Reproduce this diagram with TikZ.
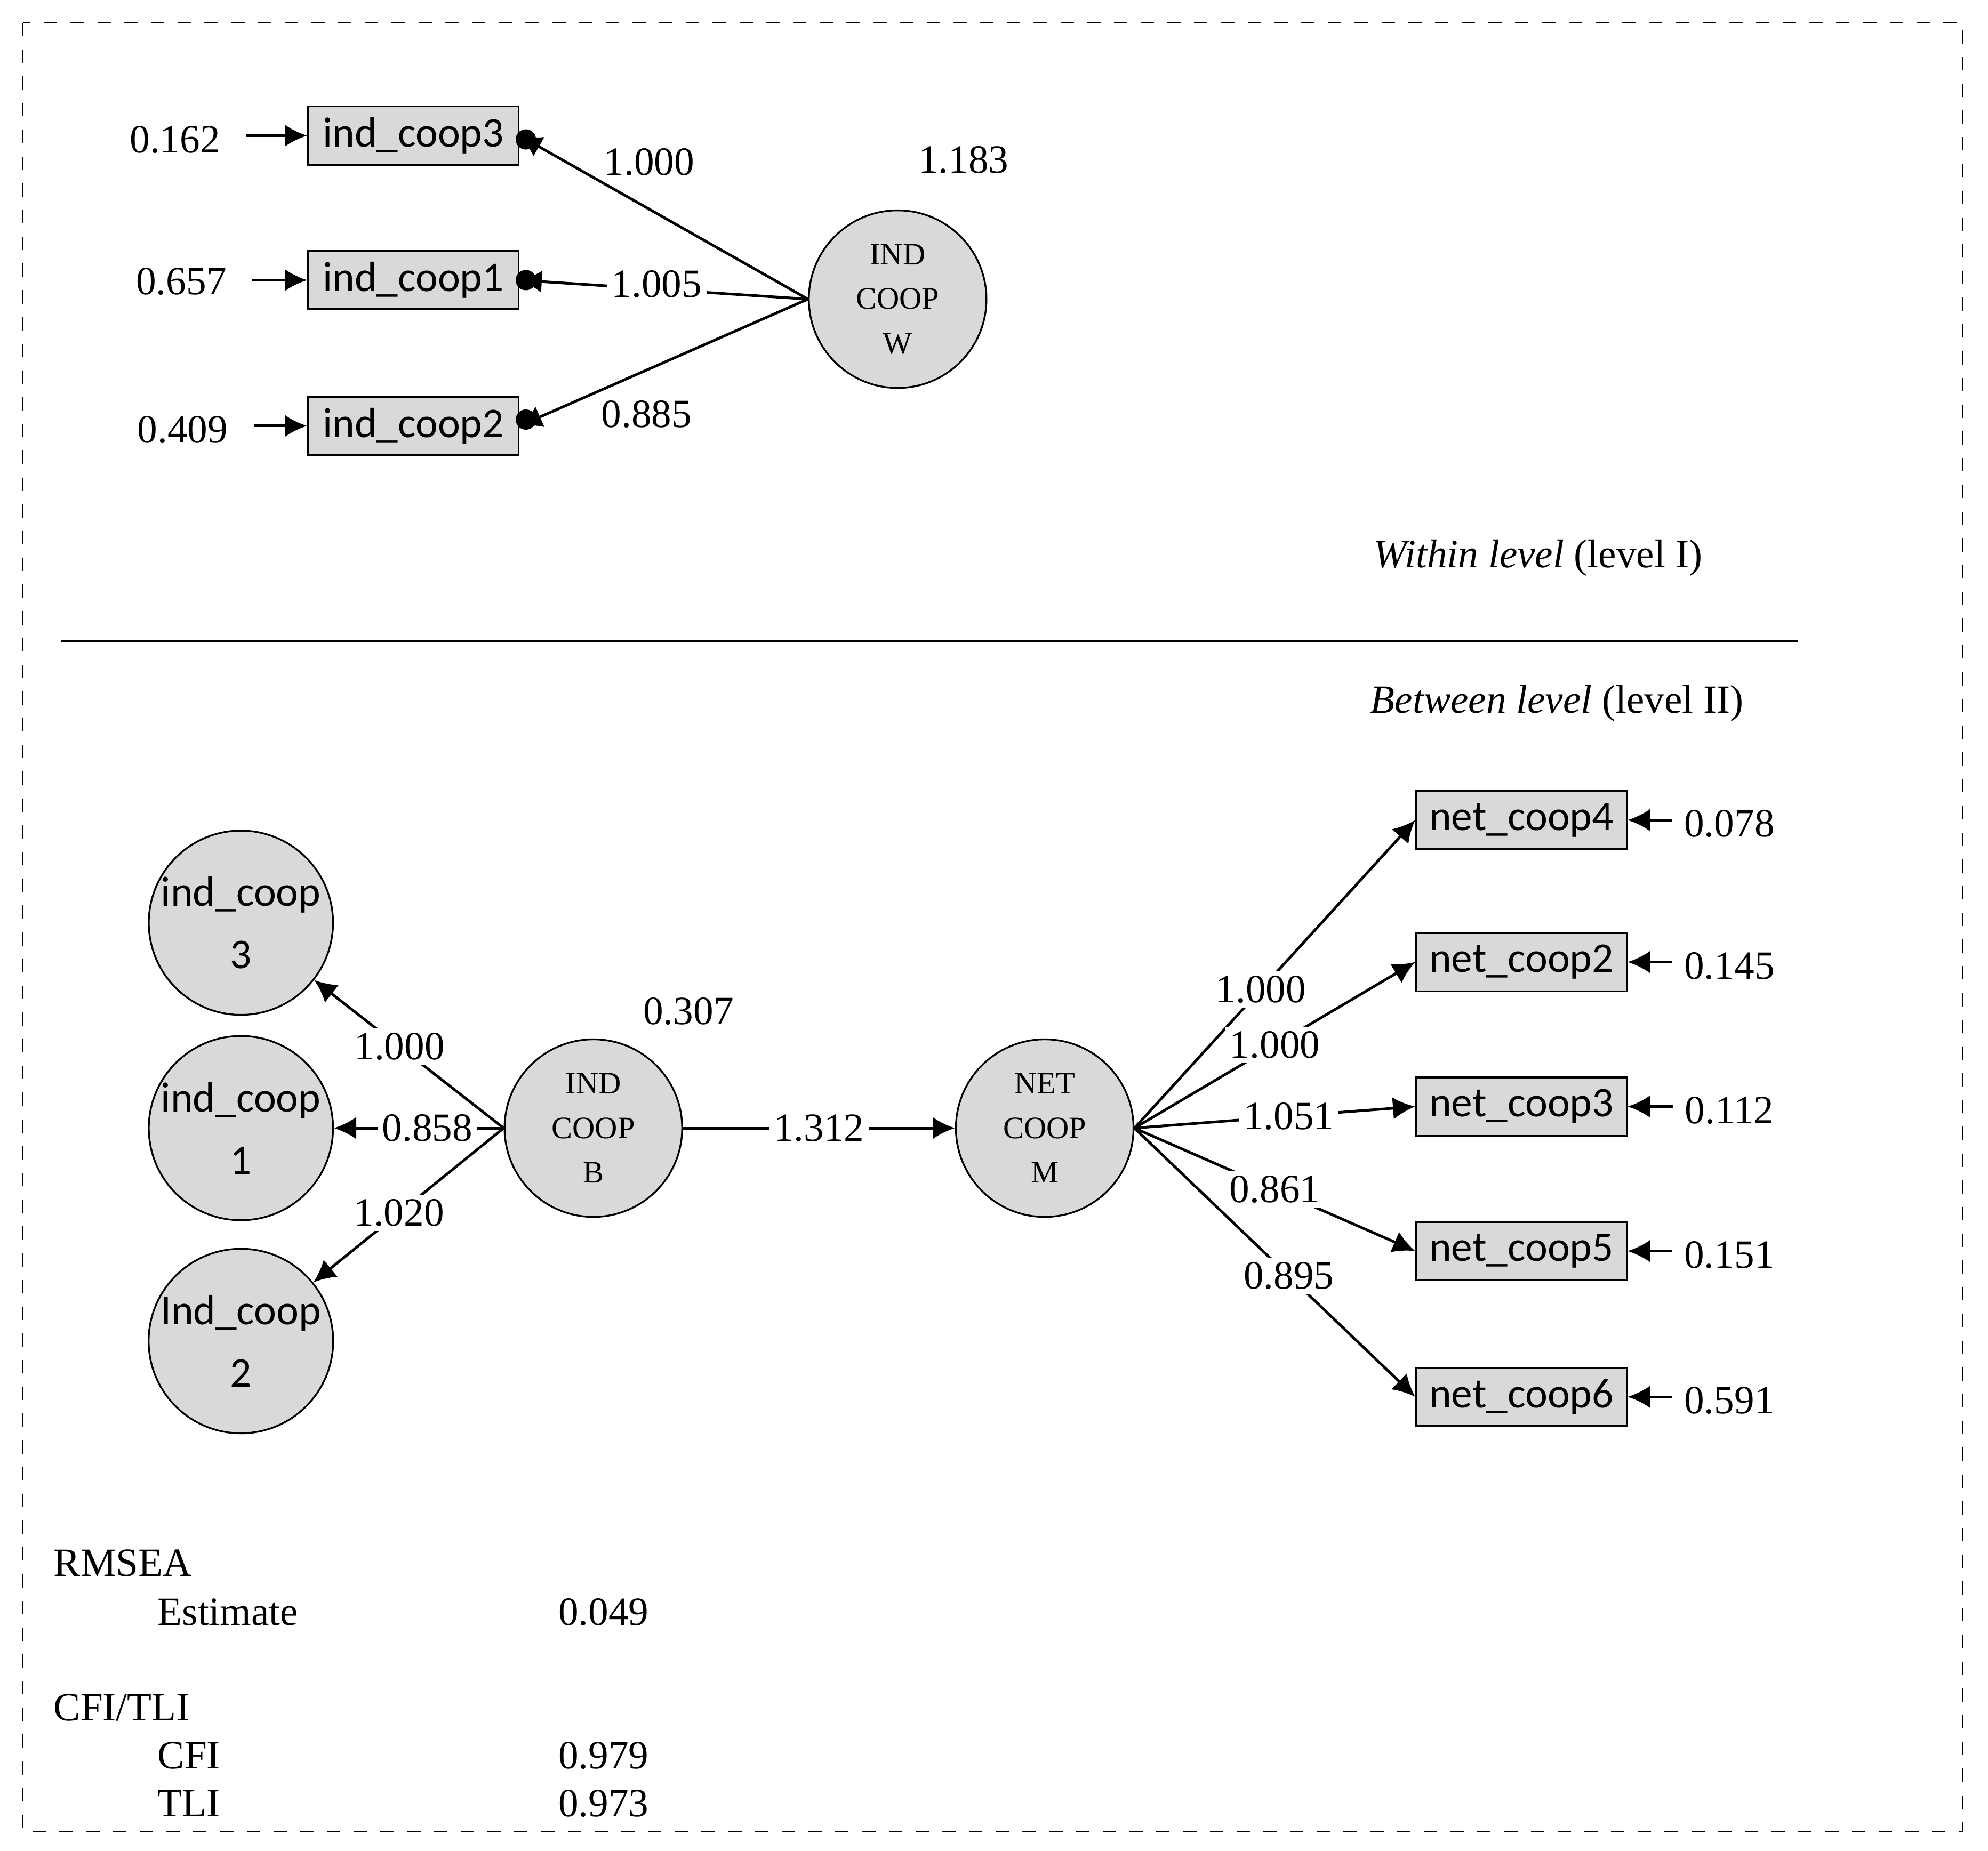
\documentclass[tikz,border=0pt]{standalone}
\usepackage{fontspec}
\setmainfont{Liberation Serif}
\newfontfamily\boxfont{Carlito}
\usetikzlibrary{arrows.meta}
\begin{document}
\begin{tikzpicture}
    [x=0.01cm,y=-0.01cm,font=\fontsize{9}{10}\selectfont,
     obs/.style={draw,fill=black!15,minimum width=1.66cm,minimum height=0.46cm,inner sep=0pt,font=\boxfont\fontsize{9.5}{10}\selectfont},
     lat/.style={draw,circle,fill=black!15,minimum size=1.4cm,inner sep=0pt,align=center,font=\fontsize{7}{10}\selectfont},
     latb/.style={draw,circle,fill=black!15,minimum size=1.36cm,inner sep=0pt,align=center,font=\boxfont\fontsize{9.5}{14}\selectfont},
     pre/.style={-{Latex[length=5pt,width=5pt]},semithick},
     dot/.style={{Circle[length=5pt]}-{Latex[length=5pt,width=5pt]},semithick},
     est/.style={fill=white,inner sep=1pt}]
    \useasboundingbox (0,0) rectangle (1568,1460);
    \draw[dashed] (18,18) rectangle (1548,1445);
    % within level
    \node [obs] (w3) at (326,107) {ind\_coop3};
    \node [obs] (w1) at (326,221) {ind\_coop1};
    \node [obs] (w2) at (326,336) {ind\_coop2};
    \node (e3) at (138,110) {0.162};
    \node (e1) at (143,222) {0.657};
    \node (e2) at (144,339) {0.409};
    \draw [pre] (e3.east)++(8,-3) coordinate (e3a) (e3a) -- (w3);
    \draw [pre] (e1.east)++(8,-1) coordinate (e1a) (e1a) -- (w1);
    \draw [pre] (e2.east)++(8,-3) coordinate (e2a) (e2a) -- (w2);
    \node [lat] (W) at (708,236) {IND\\COOP\\W};
    \draw [pre] (W.west) -- (w3.east);
    \draw [pre] (W.west) -- (w1.east);
    \draw [pre] (W.west) -- (w2.east);
    \fill (w3.east)++(5,3) circle (8);
    \fill (w1.east)++(5,0) circle (8);
    \fill (w2.east)++(5,-5) circle (8);
    \node at (512,128) {1.000};
    \node [est] at (518,224) {1.005};
    \node at (510,327) {0.885};
    \node at (760,126) {1.183};
    \node at (1213,440) {\textit{Within level} (level I)};
    \draw (48,506) coordinate (l1) -- (1418,506) coordinate (l2);
    \node at (1228,555) {\textit{Between level} (level II)};
    % between level
    \node [latb] (b3) at (190,728) {ind\_coop\\3};
    \node [latb] (b1) at (190,890) {ind\_coop\\1};
    \node [latb] (b2) at (190,1058) {Ind\_coop\\2};
    \node [lat] (B) at (468,890) {IND\\COOP\\B};
    \node [lat] (M) at (824,890) {NET\\COOP\\M};
    \draw [pre] (B.west) -- node [est,pos=0.55] {1.000} (b3);
    \draw [pre] (B.west) -- node [est,pos=0.45] {0.858} (b1);
    \draw [pre] (B.west) -- node [est,pos=0.55] {1.020} (b2);
    \node at (543,798) {0.307};
    \draw [pre] (B) -- node [est] {1.312} (M);
    \foreach \n/\y/\v/\l/\p in {4/647/0.078/1.000/0.45,2/759/0.145/1.000/0.5,3/873/0.112/1.051/0.55,5/987/0.151/0.861/0.5,6/1102/0.591/0.895/0.55}{
      \node [obs] (n\n) at (1200,\y) {net\_coop\n};
      \node (r\n) at (1364,\y+3) {\v};
      \draw [pre] (r\n.west)++(3,-3) coordinate (r\n a) (r\n a) -- (n\n);
      \draw [pre] (M.east) -- node [est,pos=\p] {\l} (n\n.west);
    }
    % fit
    \node [anchor=west] at (30,1233) {RMSEA};
    \node [anchor=west] at (112,1272) {Estimate};
    \node [anchor=west] at (428,1272) {0.049};
    \node [anchor=west] at (30,1347) {CFI/TLI};
    \node [anchor=west] at (112,1385) {CFI};
    \node [anchor=west] at (428,1385) {0.979};
    \node [anchor=west] at (112,1423) {TLI};
    \node [anchor=west] at (428,1423) {0.973};
\end{tikzpicture}
\end{document}
